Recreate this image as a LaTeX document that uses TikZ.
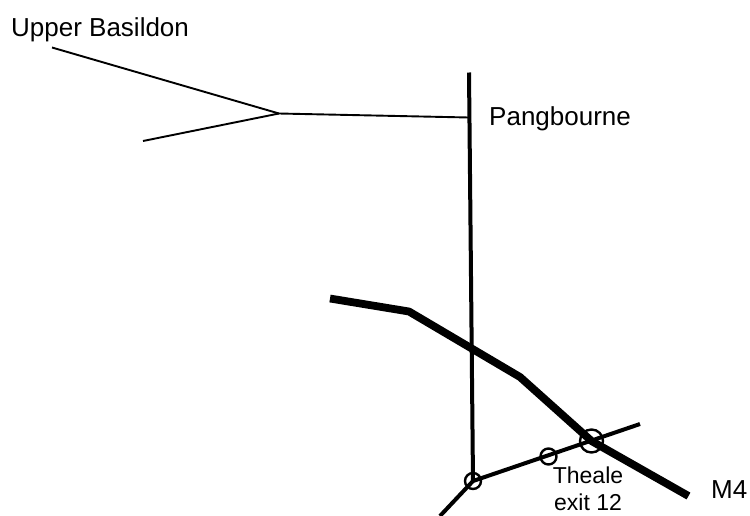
\documentclass[tikz,border=0pt]{standalone}
\usepackage{fontspec}
\setmainfont{Liberation Sans}
\begin{document}
\begin{tikzpicture}[x=1pt,y=-1pt,
  thinroad/.style={line width=1.9pt},
  road/.style={line width=4pt},
  motorway/.style={line width=7.8pt, line join=round},
  junc/.style={circle, draw, line width=2.4pt, inner sep=0pt, minimum size=#1},
  lbl/.style={font=\fontsize{26}{30}\selectfont, inner sep=0pt, anchor=base west},
  smalllbl/.style={font=\fontsize{23}{27}\selectfont, inner sep=0pt, anchor=base, align=center}]
\useasboundingbox (0,0) rectangle (750,515);
% coordinates
\coordinate (ubend) at (52,47.5);
\coordinate (lowend) at (143,141);
\coordinate (fork) at (279,113.5);
\coordinate (pang) at (469,117.5);
\coordinate (vtop) at (469,72.5);
\coordinate (swend) at (440,516);
\coordinate (eend) at (640,424);
\coordinate (m1) at (330,298.5);
\coordinate (m2) at (409,311.5);
\coordinate (m3) at (520,377);
\coordinate (m5) at (688.5,496);
% junction circles
\node[junc=16pt] (j1) at (473,481) {};
\node[junc=16pt] (j2) at (548.5,456.5) {};
\node[junc=23pt] (j3) at (591.5,441) {};
% thin roads
\draw[thinroad] (ubend) -- (fork);
\draw[thinroad] (lowend) -- (fork);
\draw[thinroad] (fork) -- (pang);
% main road
\draw[road] (vtop) -- (j1.center);
\draw[road] (swend) -- (j1.center) -- (eend);
% motorway
\draw[motorway] (m1) -- (m2) -- (m3) -- (j3.center) -- (m5);
% labels
\node[lbl] (ub) at (11,36) {Upper Basildon};
\node[lbl] (pb) at (489,125) {Pangbourne};
\node[lbl] (m4) at (711,498) {M4};
\node[smalllbl] (th) at (588,510) {Theale\\exit 12};
\end{tikzpicture}
\end{document}
